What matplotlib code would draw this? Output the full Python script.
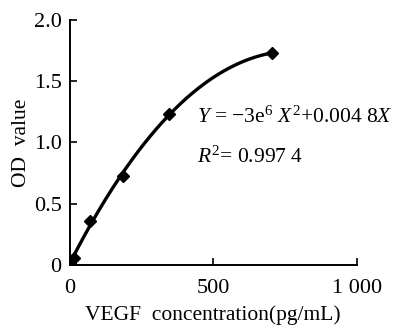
import numpy as np
import matplotlib
matplotlib.use("Agg")
import matplotlib.pyplot as plt

plt.rcParams['font.family'] = ['Liberation Serif', 'DejaVu Serif']
plt.rcParams['mathtext.fontset'] = 'custom'
plt.rcParams['mathtext.rm'] = 'Liberation Serif'
plt.rcParams['mathtext.it'] = 'Liberation Serif:italic'

# VEGF 浓度 与 OD 值
conc = [0, 15, 70, 185, 345, 705]
od = [0.02, 0.06, 0.36, 0.73, 1.23, 1.73]

xticks = [0, 500, 1000]
xticklabels = ["0", "500", "1 000"]
yticks = [0, 0.5, 1.0, 1.5, 2.0]
yticklabels = ["0", "0.5", "1.0", "1.5", "2.0"]

fig = plt.figure(figsize=(4.02, 3.26), dpi=100)
ax = fig.add_axes([0.174, 0.187, 0.713, 0.752])

# 拟合曲线
coef = np.polyfit(conc, od, 3)
xs = np.linspace(min(conc), max(conc), 200)
ax.plot(xs, np.polyval(coef, xs), color="black", linewidth=2.4)
ax.plot(conc, od, linestyle="none", marker="D", markersize=6.5, color="black")

ax.set_xlim(0, 1000)
ax.set_ylim(0, 2.0)
ax.set_xticks(xticks)
ax.set_xticklabels(xticklabels)
ax.set_yticks(yticks)
ax.set_yticklabels(yticklabels)
ax.tick_params(direction="in", length=5, width=1.2, labelsize=16)
ax.tick_params(axis="x", pad=10)
ax.tick_params(axis="y", pad=6)
for s in ["top", "right"]:
    ax.spines[s].set_visible(False)
for s in ["left", "bottom"]:
    ax.spines[s].set_linewidth(1.4)

ax.set_xlabel("VEGF  concentration(pg/mL)", fontsize=15.5, labelpad=5)
ax.set_ylabel("OD  value", fontsize=15.5, labelpad=2)

ax.text(0.445, 0.605, r"$Y$ = −3e$^6$ $X^2$+0.004 8$X$", transform=ax.transAxes,
        fontsize=15.5, ha="left", va="center")
ax.text(0.445, 0.44, r"$R^2$= 0.997 4", transform=ax.transAxes,
        fontsize=15.5, ha="left", va="center")

plt.savefig("out.png", dpi=100)
